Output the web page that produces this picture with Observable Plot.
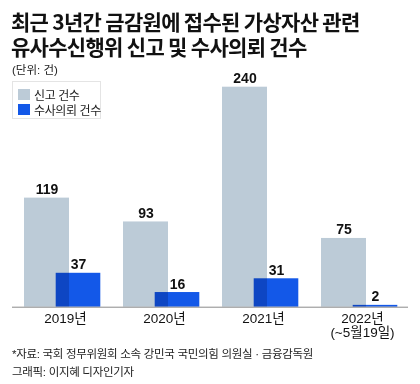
<!DOCTYPE html>
<html><head><meta charset="utf-8">
<script src="https://cdn.jsdelivr.net/npm/d3@7"></script>
<script src="https://cdn.jsdelivr.net/npm/@observablehq/plot@0.6"></script>
<style>
html,body{margin:0;padding:0;background:#fff;}
#wrap{position:relative;width:420px;height:384px;overflow:hidden;font-family:"Liberation Sans","Noto Sans CJK KR",sans-serif;color:#111;}
#chart{position:absolute;left:0;top:0;}
.title{position:absolute;left:11px;font-family:"Noto Sans CJK KR",sans-serif;font-weight:700;font-size:21px;line-height:22px;letter-spacing:-0.7px;color:#111;white-space:nowrap;}
.unit{position:absolute;left:12px;top:61px;font-size:11.5px;color:#222;}
.legend{position:absolute;left:12px;top:81px;width:89px;height:38px;border:1px solid #e4e4e4;box-sizing:border-box;}
.legend .row{position:absolute;left:5px;display:flex;align-items:center;font-size:12px;letter-spacing:-0.4px;color:#222;white-space:nowrap;}
.legend .sw{width:12px;height:11px;margin-right:4px;flex:none;}
.foot{position:absolute;left:12px;font-size:11.5px;letter-spacing:-0.3px;color:#222;white-space:nowrap;}
</style></head>
<body>
<div id="wrap">
  <div id="chart"></div>
  <div class="title" style="top:10px">최근 3년간 금감원에 접수된 가상자산 관련</div>
  <div class="title" style="top:35px">유사수신행위 신고 및 수사의뢰 건수</div>
  <div class="unit">(단위: 건)</div>
  <div class="legend" id="legend"></div>
  <div class="foot" style="top:345px">*자료: 국회 정무위원회 소속 강민국 국민의힘 의원실 · 금융감독원</div>
  <div class="foot" style="top:363px">그래픽: 이지혜 디자인기자</div>
</div>
<script>
const years = ["2019", "2020", "2021", "2022"];
const yearLabels = ["2019년", "2020년", "2021년", "2022년\n(~5월19일)"];
const reports = [119, 93, 240, 75];
const referrals = [37, 16, 31, 2];
const seriesNames = ["신고 건수", "수사의뢰 건수"];
const seriesColors = ["#bccbd7", "#1358e8"];

const greyData = years.map((y, i) => ({year: y, value: reports[i]}));
const blueData = years.map((y, i) => ({year: y, value: referrals[i]}));
const labelData = years.map((y, i) => ({year: y, label: yearLabels[i]}));

const chart = Plot.plot({
  width: 420,
  height: 384,
  marginLeft: 12,
  marginRight: 12,
  marginTop: 86.7,
  marginBottom: 77.3,
  style: {fontFamily: '"Liberation Sans","Noto Sans CJK KR",sans-serif', background: "transparent"},
  x: {type: "band", domain: years, padding: 0, axis: null},
  y: {domain: [0, 240], axis: null},
  marks: [
    Plot.barY(greyData, {x: "year", y: "value", fill: seriesColors[0], insetLeft: 12, insetRight: 42}),
    Plot.barY(blueData, {x: "year", y: "value", fill: seriesColors[1], insetLeft: 43.7, insetRight: 10.7, mixBlendMode: "multiply"}),
    Plot.ruleY([0], {stroke: "#8a8a8a", strokeWidth: 1}),
    Plot.text(greyData, {x: "year", y: "value", text: d => String(d.value), dx: -15, dy: -4, lineAnchor: "bottom", fontSize: 14, fontWeight: "bold", fill: "#111"}),
    Plot.text(blueData, {x: "year", y: "value", text: d => String(d.value), dx: 16.5, dy: -4, lineAnchor: "bottom", fontSize: 14, fontWeight: "bold", fill: "#111"}),
    Plot.text(labelData, {x: "year", text: "label", frameAnchor: "bottom", lineAnchor: "top", dx: 3.5, dy: 6, fontSize: 13.5, lineHeight: 1.05, fill: "#111"})
  ]
});
document.getElementById("chart").appendChild(chart);

const legend = document.getElementById("legend");
seriesNames.forEach((name, i) => {
  const row = document.createElement("div");
  row.className = "row";
  row.style.top = (i === 0 ? 4 : 19) + "px";
  const sw = document.createElement("div");
  sw.className = "sw";
  sw.style.background = seriesColors[i];
  const t = document.createElement("span");
  t.textContent = name;
  row.appendChild(sw);
  row.appendChild(t);
  legend.appendChild(row);
});
</script>
</body></html>
